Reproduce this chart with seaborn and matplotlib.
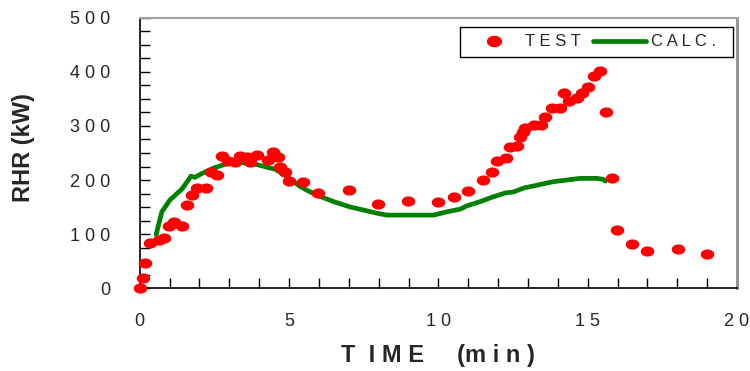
import numpy as np
import pandas as pd
import matplotlib
matplotlib.use("Agg")
import matplotlib.pyplot as plt
from matplotlib.path import Path
from matplotlib.lines import Line2D
import seaborn as sns

# ---- data ----
test_time = [0, 0.11, 0.19, 0.36, 0.64, 0.81, 0.98, 1.14, 1.41, 1.59, 1.76, 1.91,
             2.22, 2.37, 2.59, 2.76, 2.94, 3.19, 3.36, 3.59, 3.70, 3.94, 4.28,
             4.47, 4.64, 4.69, 4.86, 5.00, 5.48, 5.98, 7.00, 7.98, 8.99, 10.0,
             10.51, 10.99, 11.49, 11.79, 11.96, 12.26, 12.41, 12.63, 12.72,
             12.82, 12.91, 13.19, 13.43, 13.58, 13.82, 14.06, 14.19, 14.36,
             14.64, 14.81, 15.01, 15.20, 15.40, 15.62, 15.81, 15.98, 16.48,
             16.98, 18.02, 19.01]
test_rhr = [0, 18, 46, 83, 89, 93, 115, 123, 115, 154, 173, 185,
            185, 214, 209, 245, 235, 233, 245, 243, 234, 246, 237,
            251, 243, 225, 215, 199, 197, 176, 181, 156, 161, 160,
            168, 180, 200, 214, 236, 240, 262, 263, 279,
            288, 296, 301, 301, 317, 333, 334, 362, 347,
            351, 362, 372, 393, 401, 325, 204, 107, 81,
            69, 72, 63]

calc_time = [0.55, 0.74, 1.01, 1.41, 1.63, 1.71, 1.85, 2.08, 2.47, 2.91, 3.42,
             3.81, 4.25, 4.53, 4.81, 5.15, 5.37, 5.6, 5.93, 6.49, 7.05, 7.6,
             7.99, 8.27, 9.0, 9.84, 10.28, 10.73, 10.95, 11.4, 11.79, 12.24,
             12.52, 12.85, 13.19, 13.52, 13.86, 14.3, 14.75, 15.31, 15.53, 15.59]
calc_rhr = [99, 141, 163, 183, 200, 207, 205, 212, 222, 230, 232,
            230, 224, 220, 211, 197, 188, 181, 172, 160, 150, 143,
            138, 135, 135, 135, 141, 146, 152, 160, 168, 176,
            178, 185, 189, 193, 197, 200, 203, 203, 201, 198]

x_ticks = [0, 5, 10, 15, 20]
x_tick_labels = ["0", "5", "1 0", "1 5", "2 0"]
y_ticks = [0, 100, 200, 300, 400, 500]
y_tick_labels = ["0", "1 0 0", "2 0 0", "3 0 0", "4 0 0", "5 0 0"]

test_df = pd.DataFrame({"time": test_time, "rhr": test_rhr})
calc_df = pd.DataFrame({"time": calc_time, "rhr": calc_rhr})

# ---- style ----
sns.set_style("ticks")
plt.rcParams["font.family"] = ["Liberation Sans", "DejaVu Sans"]

fig = plt.figure(figsize=(7.5, 3.71), dpi=100)
ax = fig.add_axes([0.1863, 0.2237, 0.7964, 0.7278])

theta = np.linspace(0, 2 * np.pi, 60)
ell = Path(np.column_stack([np.cos(theta), 0.75 * np.sin(theta)]), closed=True)

red = "#ff0000"
green = "#008000"

sns.lineplot(data=calc_df, x="time", y="rhr", ax=ax, sort=False, estimator=None,
             color=green, linewidth=3.4, zorder=2, legend=False)
sns.scatterplot(data=test_df, x="time", y="rhr", ax=ax, marker=ell, s=95,
                color=red, edgecolor=red, linewidth=0, zorder=3, clip_on=False,
                legend=False)

ax.set_xlim(0, 20)
ax.set_ylim(0, 500)
ax.set_xticks(x_ticks)
ax.set_xticklabels(x_tick_labels)
ax.set_yticks(y_ticks)
ax.set_yticklabels(y_tick_labels)
ax.set_xticks(np.arange(0, 21, 1), minor=True)
ax.set_yticks(np.arange(0, 501, 25), minor=True)
ax.tick_params(axis="both", which="both", direction="in", length=7, width=1,
               color="black", top=False, right=False)
ax.tick_params(axis="x", which="major", labelsize=13, pad=18)
ax.tick_params(axis="y", which="major", labelsize=13, pad=21)

for side in ["left", "bottom"]:
    ax.spines[side].set_color("black")
    ax.spines[side].set_linewidth(1.2)
ax.spines["top"].set_color("#a0a0a0")
ax.spines["top"].set_linewidth(1.5)
ax.spines["right"].set_color("#909090")
ax.spines["right"].set_linewidth(2)

ax.set_xlabel("T  I M E     (m i n )", fontsize=17, fontweight="bold")
ax.xaxis.set_label_coords(0.5, -0.207)
ax.set_ylabel("RHR (kW)", fontsize=17, fontweight="bold")
ax.yaxis.set_label_coords(-0.175, 0.52)

handles = [Line2D([], [], linestyle="none", marker=ell, markersize=11,
                  color=red, markeredgewidth=0),
           Line2D([], [], color=green, linewidth=3.4)]
leg = ax.legend(handles, ["T E S T", "C A L C .  "], ncol=2, loc="upper right",
                bbox_to_anchor=(0.993, 0.967), fontsize=12, frameon=True,
                fancybox=False, edgecolor="black", framealpha=1,
                handlelength=3.2, handletextpad=0.3, columnspacing=0.7,
                borderpad=0.45, borderaxespad=0)
leg.get_frame().set_linewidth(1.0)

fig.savefig("out.png", dpi=100)
